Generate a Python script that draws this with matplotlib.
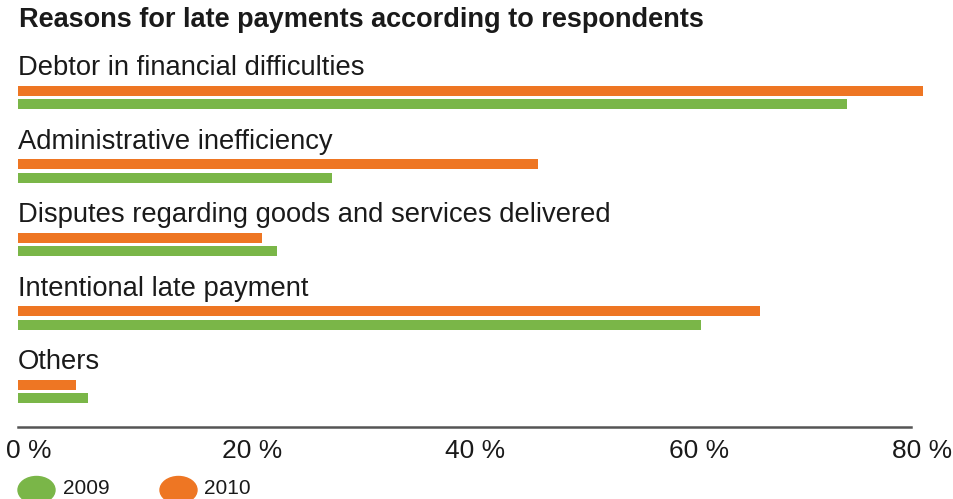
import matplotlib
matplotlib.use("Agg")
import matplotlib.pyplot as plt
from matplotlib.patches import Ellipse
from matplotlib.transforms import ScaledTranslation, blended_transform_factory

plt.rcParams["font.family"] = ["Liberation Sans", "DejaVu Sans"]

reasons = [
    "Debtor in financial difficulties",
    "Administrative inefficiency",
    "Disputes regarding goods and services delivered",
    "Intentional late payment",
    "Others",
]
share_2010 = [81.1, 46.6, 21.9, 66.5, 5.2]
share_2009 = [74.3, 28.1, 23.2, 61.2, 6.3]
years = ["2009", "2010"]
x_ticks = [0, 20, 40, 60, 80]
x_labels = ["0 %", "20 %", "40 %", "60 %", "80 %"]

green = "#7ab648"
orange = "#ee7623"

W, H = 954, 499
fig = plt.figure(figsize=(W / 100, H / 100), dpi=100)
ax = fig.add_axes([18 / W, 1 - 426.7 / H, (911 - 18) / W, (426.7 - 50) / H])

bar_h = 0.136
off = 0.089
pos = list(range(len(reasons)))
ax.barh([p - off for p in pos], share_2010, height=bar_h, color=orange, clip_on=False)
ax.barh([p + off for p in pos], share_2009, height=bar_h, color=green, clip_on=False)

ax.set_xlim(0, 80)
ax.set_ylim(4.479, -0.646)

# category names sit above each pair of bars
trans = blended_transform_factory(ax.transAxes, ax.transData)
for p, name in zip(pos, reasons):
    ax.text(0.0, p - 0.40, name, transform=trans, ha="left", va="center",
            fontsize=19.7, color="#1a1a1a")

for side in ["top", "right", "left"]:
    ax.spines[side].set_visible(False)
ax.spines["bottom"].set_color("#555555")
ax.spines["bottom"].set_linewidth(1.8)
ax.set_yticks([])
ax.set_xticks(x_ticks)
ax.set_xticklabels(x_labels, fontsize=19, color="#1a1a1a")
ax.tick_params(axis="x", length=0, pad=9)
shift = ScaledTranslation(11 / 100, 0, fig.dpi_scale_trans)
for lbl in ax.get_xticklabels():
    lbl.set_transform(lbl.get_transform() + shift)

fig.text(19 / W, 1 - 20 / H, "Reasons for late payments according to respondents",
         fontsize=19.5, fontweight="bold", ha="left", va="center", color="#1a1a1a")

# legend markers along the bottom edge
for cx, tx, col, yr in [(36.5, 63, green, years[0]), (178.5, 204, orange, years[1])]:
    fig.patches.append(Ellipse((cx / W, 1 - 490 / H), 37 / W, 27 / H,
                               transform=fig.transFigure, color=col))
    fig.text(tx / W, 1 - 489 / H, yr, fontsize=15, ha="left", va="center", color="#1a1a1a")

fig.savefig("out.png", dpi=100)
